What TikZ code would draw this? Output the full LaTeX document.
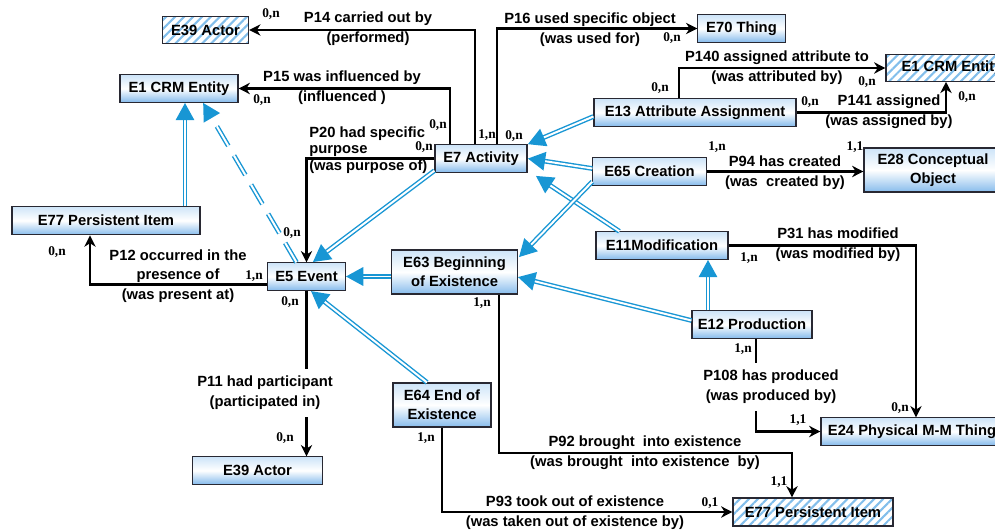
\documentclass[tikz,border=0pt]{standalone}
\usepackage{fontspec}
\setmainfont{Liberation Sans}
\newfontfamily\cardfont{Liberation Serif}
\usepackage{xcolor}
\usepackage{tikz}
\usetikzlibrary{positioning,calc,arrows.meta,patterns.meta,decorations.markings}

\definecolor{isablue}{RGB}{24,150,212}
\definecolor{hatchblue}{RGB}{130,190,235}
\definecolor{boxtop}{RGB}{205,228,248}
\definecolor{boxbot}{RGB}{135,188,236}
\definecolor{boxline}{RGB}{40,40,50}

\tikzset{%
	entity/.style  = {draw=boxline, line width=0.8pt, rectangle, top color=boxtop,
		bottom color=boxbot, middle color=white, minimum height=0.68cm,
		inner sep=2pt, align=center, font=\bfseries\fontsize{10.5}{13.5}\selectfont},
	hatched/.style = {draw=boxline, line width=0.8pt, rectangle,
		pattern={Lines[angle=45,distance=4.5pt,line width=1.5pt]}, pattern color=hatchblue,
		minimum height=0.66cm, inner sep=2pt, font=\bfseries\fontsize{10.5}{13.5}\selectfont},
	rel/.style     = {line width=1.5pt, -{Stealth[length=8pt,width=8pt,inset=2.5pt]}},
	isa/.style     = {draw=isablue, line width=1pt, double=white, double distance=1.4pt,
		shorten >=11pt, postaction={decorate, decoration={markings,
				mark=at position 1 with {\arrow[isablue]{Triangle[length=12.5pt,width=12.5pt]}}}}},
	card/.style    = {font=\cardfont\bfseries\fontsize{9.5}{10}\selectfont, inner sep=0pt},
	lbl/.style     = {font=\bfseries\fontsize{10.5}{14}\selectfont, align=center, inner sep=0pt}
}

\begin{document}
\begin{tikzpicture}[x=0.025cm, y=-0.025cm]
	\useasboundingbox (0,0) rectangle (995,532);

	% classes
	\node[hatched, minimum width=2.13cm] (actorA) at (205.5,30) {E39 Actor};
	\node[entity, minimum width=2.95cm] (crmA) at (179,88.5) {E1 CRM Entity};
	\node[entity, minimum width=4.7cm, minimum height=0.72cm] (itemA) at (106,220.5) {E77 Persistent Item};
	\node[entity, minimum width=1.93cm] (event) at (306.5,276.5) {E5 Event};
	\node[entity, minimum width=3.23cm] (actorB) at (257.5,470.5) {E39 Actor};
	\node[entity, minimum width=2.3cm] (activity) at (481,158.5) {E7 Activity};
	\node[entity, minimum width=3.13cm, minimum height=1.1cm] (begin) at (454.5,272) {E63 Beginning\\of Existence};
	\node[entity, minimum width=2.45cm, minimum height=1.1cm] (endex) at (442,405) {E64 End of\\Existence};
	\node[entity, minimum width=2.18cm] (thing) at (741.5,28.5) {E70 Thing};
	\node[entity, minimum width=5.05cm] (attass) at (695,112.5) {E13 Attribute Assignment};
	\node[hatched, minimum width=3.3cm] (crmB) at (952,68) {E1 CRM Entity};
	\node[entity, minimum width=2.83cm] (creation) at (649.5,171.5) {E65 Creation};
	\node[entity, minimum width=3.45cm, minimum height=1.1cm] (concept) at (933,170) {E28 Conceptual\\Object};
	\node[entity, minimum width=3.3cm] (modif) at (662,245.5) {E11Modification};
	\node[entity, minimum width=3cm] (prod) at (752,324.5) {E12 Production};
	\node[entity, minimum width=4.55cm] (physical) at (912,431.5) {E24 Physical M-M Thing};
	\node[hatched, minimum width=4cm, minimum height=0.7cm] (itemB) at (813,512) {E77 Persistent Item};

	% property names
	\node[lbl] (p14) at (368,29) {P14 carried out by\\(performed)};
	\node[lbl] (p15) at (342,87.5) {P15 was influenced by\\(influenced )};
	\node[lbl] (p16) at (590,30) {P16 used specific object\\(was used for)};
	\node[lbl, align=left, anchor=west, font=\bfseries\fontsize{10.5}{11.7}\selectfont] (p20) at (309,150) {P20 had specific\\purpose\\(was purpose of)};
	\node[lbl] (p12) at (178,276) {P12 occurred in the\\presence of\\(was present at)};
	\node[lbl, inner ysep=5pt] (p11) at (265,393) {P11 had participant\\(participated in)};
	\node[lbl] (p94) at (785,173) {P94 has created\\(was\ \ created by)};
	\node[lbl] (p140) at (777,68) {P140 assigned attribute to\\(was attributed by)};
	\node[lbl] (p141) at (889,112) {P141 assigned\\(was assigned by)};
	\node[lbl] (p31) at (838,245) {P31 has modified\\(was modified by)};
	\node[lbl, inner ysep=5pt] (p108) at (771,387) {P108 has produced\\(was produced by)};
	\node[lbl] (p92) at (645,453) {P92 brought\ \ into existence\\(was brought\ \ into existence\ \ by)};
	\node[lbl] (p93) at (575,513) {P93 took out of existence\\(was taken out of existence by)};

	% cardinalities
	\node[card] (c14a) at (271,14) {0,n};
	\node[card] (c14b) at (487,135) {1,n};
	\node[card] (c15a) at (262,100) {0,n};
	\node[card] (c15b) at (438,125) {0,n};
	\node[card] (c16a) at (514,136) {0,n};
	\node[card] (c16b) at (672,38) {0,n};
	\node[card] (c20a) at (424,147) {0,n};
	\node[card] (c20b) at (292,233) {0,n};
	\node[card] (c12a) at (254,276) {1,n};
	\node[card] (c12b) at (57,252) {0,n};
	\node[card] (c11a) at (290,302) {0,n};
	\node[card] (c11b) at (285,438) {0,n};
	\node[card] (c140a) at (660,88) {0,n};
	\node[card] (c140b) at (867,82) {0,n};
	\node[card] (c141a) at (810,102) {0,n};
	\node[card] (c141b) at (967,97) {0,n};
	\node[card] (c94a) at (717,147) {1,n};
	\node[card] (c94b) at (855,147) {1,1};
	\node[card] (c31a) at (749,258) {1,n};
	\node[card] (c31b) at (900,408) {0,n};
	\node[card] (c108a) at (743,349) {1,n};
	\node[card] (c108b) at (798,420) {1,1};
	\node[card] (c92a) at (482,303) {1,n};
	\node[card] (c92b) at (779,482) {1,1};
	\node[card] (c93a) at (426,438) {1,n};
	\node[card] (c93b) at (710,503) {0,1};

	% properties
	\draw[rel] ($(activity.north)+(-6,0)$) |- (actorA.east);
	\draw[rel] ($(activity.north)+(-31,0)$) |- (crmA.east);
	\draw[rel] ($(activity.north)+(16,0)$) |- (thing.west);
	\draw[rel] (activity.west) -| (event.north);
	\draw[rel] ($(event.west)+(0,8)$) -| ($(itemA.south)+(-16,0)$);
	\draw[rel,-] (event.south) -- (event.south |- p11.north);
	\draw[rel] (event.south |- p11.south) -- (event.south |- actorB.north);
	\draw[rel] (creation.east) -- (creation.east -| concept.west);
	\draw[rel] ($(attass.north)+(-16,0)$) |- (crmB.west);
	\draw[rel] (attass.east) -| ($(crmB.south)+(-6,0)$);
	\draw[rel] (modif.east) -| ($(physical.north)+(4,0)$);
	\coordinate (p108top) at ($(prod.south)+(4,0)$);
	\draw[rel,-] (p108top) -- (p108top |- p108.north);
	\draw[rel] (p108top |- p108.south) |- (physical.west);
	\coordinate (p92bend) at (792,453);
	\draw[rel] ($(begin.south)+(44.5,0)$) |- (p92bend) -- (p92bend |- itemB.north);
	\draw[rel] (endex.south) |- (itemB.west);

	% subclass links
	\draw[isa] ($(itemA.north)+(79,0)$) -- ($(crmA.south)+(6,0)$);
	\draw[isa, dash pattern=on 16pt off 8pt] ($(event.north)+(-10,0)$) -- ($(crmA.south)+(24,0)$);
	\draw[isa] ($(activity.south west)+(0,-2)$) -- ($(event.north)+(6,0)$);
	\draw[isa] (begin.west |- event.east) -- (event.east);
	\draw[isa] ($(endex.north)+(-15,0)$) -- ($(event.south)+(4,0)$);
	\draw[isa] ($(attass.west)+(0,4)$) -- (activity.north east);
	\draw[isa] ($(creation.west)+(0,-3)$) -- (activity.east);
	\draw[isa] ($(modif.north west)+(24,0)$) -- ($(activity.south east)+(8,3)$);
	\draw[isa] ($(creation.south west)+(0,-4)$) -- ($(begin.north east)+(1,8)$);
	\draw[isa] ($(prod.west)+(0,-4)$) -- ($(begin.east)+(0,5)$);
	\draw[isa] ($(prod.north)+(-44,0)$) -- ($(modif.south)+(46,0)$);
\end{tikzpicture}
\end{document}
